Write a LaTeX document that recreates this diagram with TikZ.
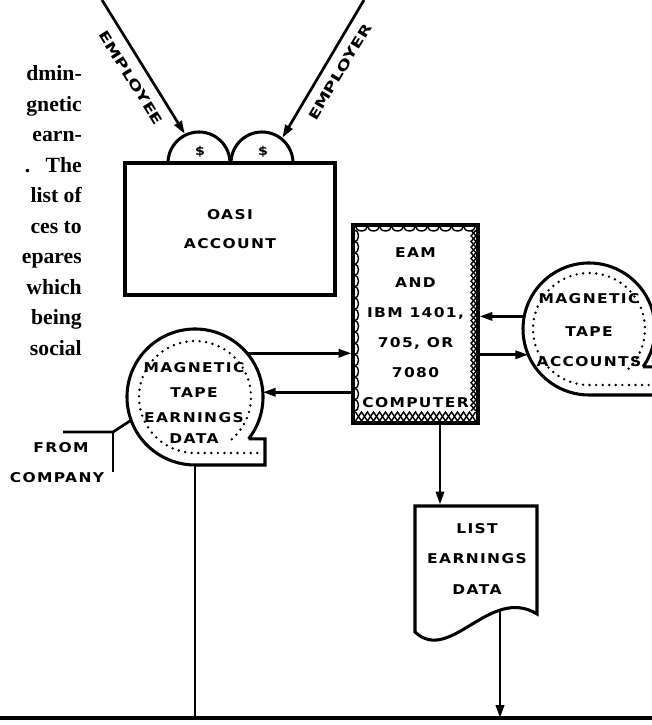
\documentclass[tikz,border=0pt]{standalone}
\usepackage{fontspec}
\usetikzlibrary{arrows.meta, calc}
\newfontfamily\lblfont[FakeStretch=1.15, LetterSpace=10]{DejaVu Sans Bold}
\newfontfamily\rotfont[FakeStretch=1.35]{DejaVu Sans Bold}
\newfontfamily\bodyfont{Liberation Serif}

\begin{document}
\begin{tikzpicture}[x=0.03cm, y=0.03cm,
    lbl/.style={font=\lblfont\fontsize{11.5}{21.3}\selectfont, align=center, inner sep=0pt},
    shp/.style={line width=2.6pt},
    con/.style={line width=2.3pt},
    arr/.style={con, -{Triangle[length=11pt, width=7pt]}},
    dots/.style={line width=2.3pt, line cap=round, dash pattern=on 0pt off 5.6pt},
    deco/.style={line width=1.2pt}]
  \useasboundingbox (0,0) rectangle (652,725);
  \clip (0,0) rectangle (652,725);

  % Texto de la columna (cortado a la izquierda)
  \foreach \txt [count=\i from 0] in {dmin-, gnetic, earn-, {.\hspace{13pt}The}, list of, ces to, epares, which, being, social}
    \node[font=\bodyfont\bfseries\fontsize{18.5}{20}\selectfont, anchor=mid east, inner sep=0pt] (par\i) at (82, 647-30.5*\i) {\txt};

  % Aportes: empleado y empleador
  \coordinate (lcoin) at (199,562);
  \coordinate (rcoin) at (262,562);
  \coordinate (eestart) at (102,725);
  \coordinate (erstart) at (364,725);
  \draw[shp] ($(lcoin)+(-31,0)$) arc[start angle=180, end angle=0, radius=31];
  \draw[shp] ($(rcoin)+(-31,0)$) arc[start angle=180, end angle=0, radius=31];
  \node[lbl, font=\lblfont\fontsize{10.5}{10}\selectfont] (ldollar) at (200,573) {\$};
  \node[lbl, font=\lblfont\fontsize{10.5}{10}\selectfont] (rdollar) at (263,573) {\$};
  \draw[arr] (eestart) -- ($(lcoin)+(116:32.5)$);
  \draw[arr] (erstart) -- ($(rcoin)+(51:32.5)$);
  \node[lbl, font=\rotfont\fontsize{11.5}{12}\selectfont, rotate=-58] (emplee) at (131,647) {EMPLOYEE};
  \node[lbl, font=\rotfont\fontsize{11.5}{12}\selectfont, rotate=59] (emplor) at (340,653) {EMPLOYER};

  % Cuenta OASI
  \node[draw, shp, lbl, font=\lblfont\fontsize{11.5}{24.8}\selectfont,
        minimum width=6.3cm, minimum height=3.96cm] (oasi) at (230,496) {OASI\\ACCOUNT};

  % Computadora (borde decorado)
  \node[draw, shp, minimum width=3.75cm, minimum height=5.94cm] (comp) at (415.5,401) {};
  \foreach \i in {0,...,9}
    \draw[deco] (355.5+12*\i,499) arc[start angle=180, end angle=360, x radius=6, y radius=5];
  \draw[deco] (355.5,304) \foreach \i in {1,...,10} { -- ++(6,9) -- ++(6,-9) };
  \draw[deco] (355.5,313) \foreach \i in {1,...,10} { -- ++(6,-9) -- ++(6,9) };
  \foreach \i in {0,...,15}
    \draw[deco] (355,314+11.3*\i) arc[start angle=-90, end angle=90, x radius=3.5, y radius=5.65];
  \draw[deco] (476,314) \foreach \i in {1,...,16} { -- ++(-5,5.65) -- ++(5,5.65) };
  \draw[deco] (471,314) \foreach \i in {1,...,16} { -- ++(5,5.65) -- ++(-5,5.65) };
  \node[lbl, font=\lblfont\fontsize{11.5}{25.6}\selectfont] (comptxt) at (415.5,397)
    {EAM\\AND\\IBM 1401,\\705, OR\\7080\\COMPUTER};

  % Cinta de cuentas
  \node[circle, minimum size=3.96cm, inner sep=0pt, outer sep=0pt] (rtape) at (589,396) {};
  \draw[shp] (rtape.-35) arc[start angle=-35, end angle=270, radius=66] -- ++(72,0) |- (rtape.-35);
  \draw[dots] (rtape.center) ++(-45:56) arc[start angle=-45, end angle=270, radius=56] -- ++(70,0);
  \node[lbl] (rtxt) at (589,395) {MAGNETIC\\[7pt]TAPE\\[4pt]ACCOUNTS};

  % Cinta de ganancias
  \node[circle, minimum size=4.08cm, inner sep=0pt, outer sep=0pt] (ltape) at (195,328) {};
  \draw[shp] (ltape.-38) arc[start angle=-38, end angle=270, radius=68] -- ++(70,0) |- (ltape.-38);
  \draw[dots] (ltape.center) ++(-49:56) arc[start angle=-49, end angle=270, radius=56] -- ++(67,0);
  \node[lbl] (ltxt) at (194,322) {MAGNETIC\\TAPE\\EARNINGS\\[-4pt]DATA};

  % Flechas entre cintas y computadora
  \draw[arr] (ltape.40) -- (ltape.40 -| comp.west);
  \draw[arr] (comp.west |- ltape.4) -- (ltape.4);
  \draw[arr] (rtape.169) -- (rtape.169 -| comp.east);
  \draw[arr] (comp.east |- rtape.203) -- (rtape.203);

  % Listado
  \node[lbl, font=\lblfont\fontsize{11.5}{26.4}\selectfont] (list) at (477,166) {LIST\\EARNINGS\\DATA};
  \draw[shp] (415,93) -- (415,219) -- (537,219) -- (537,111) .. controls (490,140) and (450,60) .. (415,93) -- cycle;
  \coordinate (c2l) at (440,301);
  \coordinate (listtop) at (440,220.5);
  \coordinate (listbot) at (500,116);
  \draw[arr] (c2l) -- (listtop);

  % Linea base
  \coordinate (bl) at (0,7);
  \coordinate (br) at (652,7);
  \draw[line width=3.4pt] (bl) -- (br);
  \draw[arr] (listbot) -- (listbot |- bl);
  \draw[con] (ltape.south) -- (ltape.south |- bl);

  % Desde la empresa
  \coordinate (fcjoin) at (113,293);
  \coordinate (fcleft) at (63,293);
  \coordinate (fcdown) at (113,253);
  \draw[con] (fcleft) -- (fcjoin) -- (ltape.200);
  \draw[con] (fcjoin) -- (fcdown);
  \node[lbl] (from) at (61,277) {FROM};
  \node[lbl] (company) at (57,247) {COMPANY};
\end{tikzpicture}
\end{document}
